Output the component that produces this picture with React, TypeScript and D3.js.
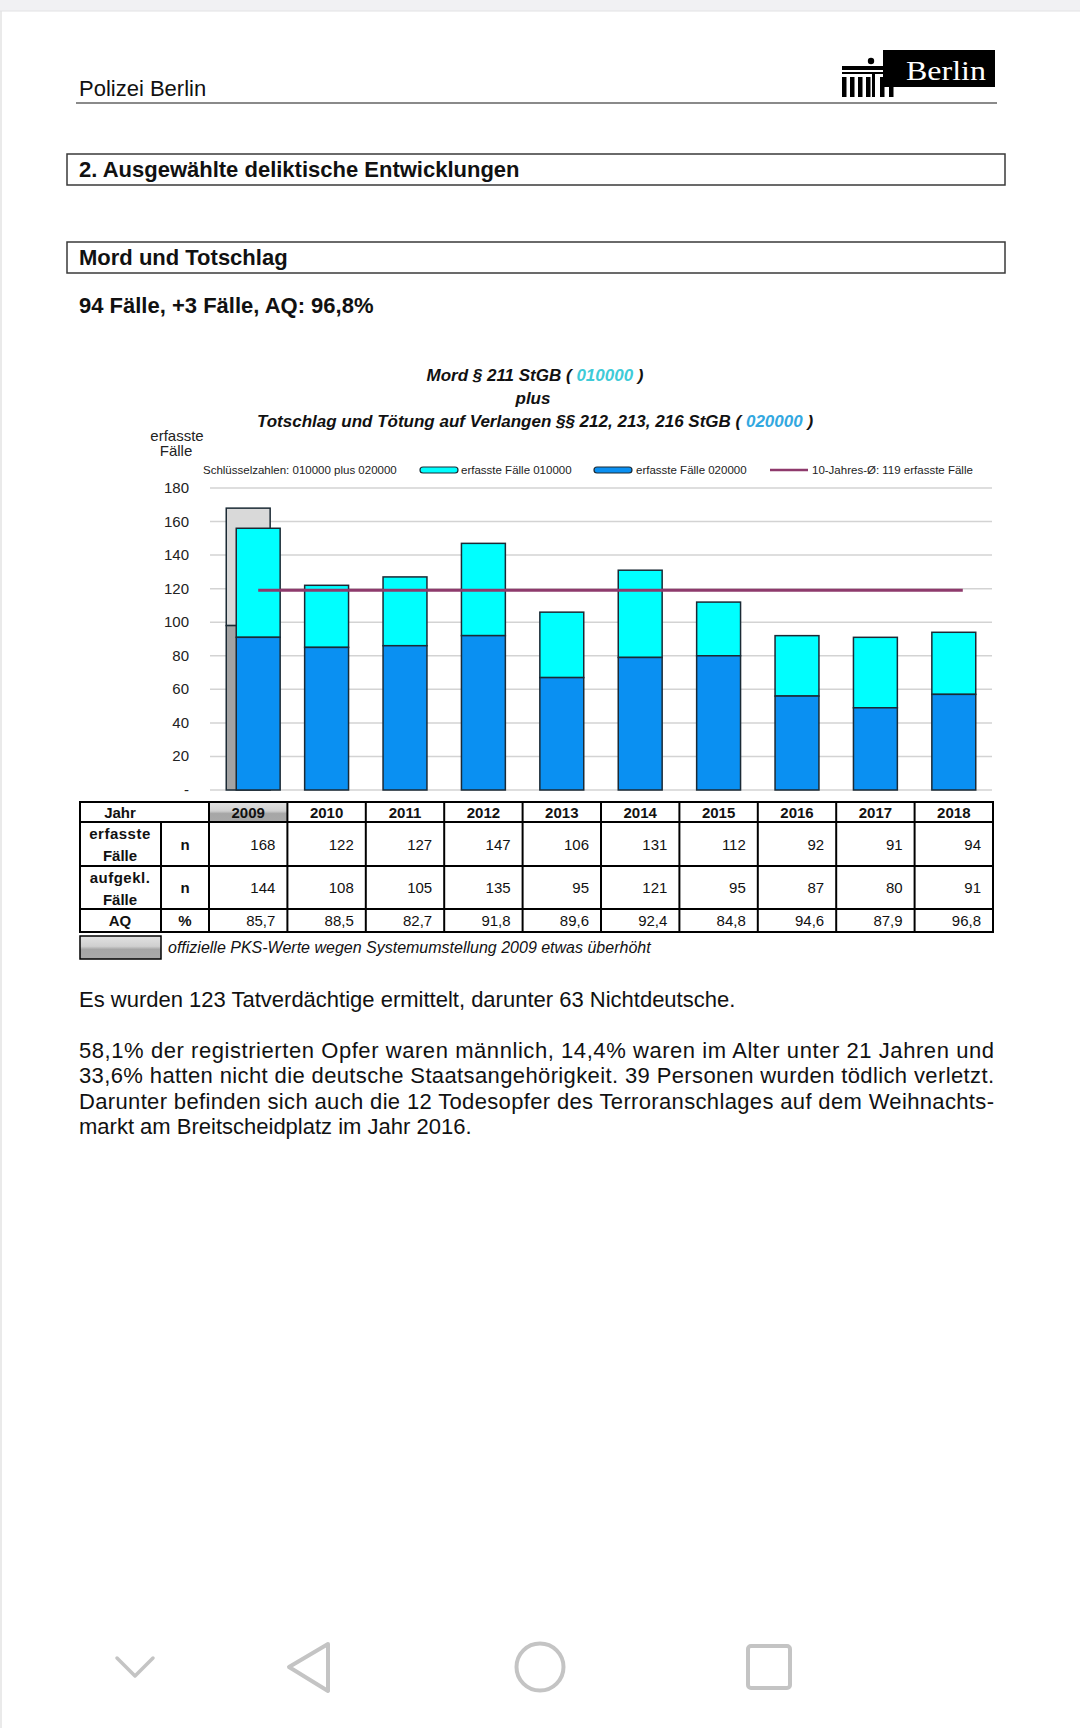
import * as d3 from "d3";

const FONT = "'Liberation Sans', Arial, Helvetica, sans-serif";

// chart data
const years = ["2009", "2010", "2011", "2012", "2013", "2014", "2015", "2016", "2017", "2018"];
const totalCases = [156, 122, 127, 147, 106, 131, 112, 92, 91, 94];
const cases020000 = [91, 85, 86, 92, 67, 79, 80, 56, 49, 57];
const official2009Total = 168;
const official2009Part = 98;
const tenYearAverage = 119;
const yTicks = [0, 20, 40, 60, 80, 100, 120, 140, 160, 180];

// table data
const tableErfasst = [168, 122, 127, 147, 106, 131, 112, 92, 91, 94];
const tableAufgeklaert = [144, 108, 105, 135, 95, 121, 95, 87, 80, 91];
const tableAQ = ["85,7", "88,5", "82,7", "91,8", "89,6", "92,4", "84,8", "94,6", "87,9", "96,8"];

const paragraphLines = [
  "58,1% der registrierten Opfer waren männlich, 14,4% waren im Alter unter 21 Jahren und",
  "33,6% hatten nicht die deutsche Staatsangehörigkeit. 39 Personen wurden tödlich verletzt.",
  "Darunter befinden sich auch die 12 Todesopfer des Terroranschlages auf dem Weihnachts-",
  "markt am Breitscheidplatz im Jahr 2016.",
];

const CYAN = "#00ffff";
const BLUE = "#0a90f2";
const BAR_STROKE = "#1b2a35";
const AVG = "#8e3a6c";
const PAGE_FS = 22;

export default function App() {
  const tableLeft = 80;
  const tableRight = 993;
  const colLabel = 161;
  const colUnit = 209;

  const x = d3.scaleBand<string>().domain(years).range([colUnit, tableRight]).paddingInner(0.44).paddingOuter(0.22);
  const col = d3.scaleBand<string>().domain(years).range([colUnit, tableRight]);
  const y = d3.scaleLinear().domain([0, 180]).range([790, 488]);
  const bw = x.bandwidth();
  const shift = (yr: string) => (yr === "2009" ? 10 : 0);

  const avgLine = d3
    .line<string>()
    .x((d, i) => x(d)! + bw / 2 + (i === 0 ? 10 : 9))
    .y(() => y(tenYearAverage));
  const avgEnds = [years[0], years[years.length - 1]];

  const rows = { top: 802, header: 822, r1: 866, r2: 909, r3: 932 };

  return (
    <svg
      width={1080}
      height={1728}
      viewBox="0 0 1080 1728"
      style={{ position: "absolute", left: 0, top: 0, background: "#fff" }}
      fontFamily={FONT}
    >
      <defs>
        <linearGradient id="gray2009" x1="0" y1="0" x2="0" y2="1">
          <stop offset="0%" stopColor="#e2e2e2" />
          <stop offset="45%" stopColor="#cfcfcf" />
          <stop offset="58%" stopColor="#a6a6a6" />
          <stop offset="100%" stopColor="#a9a9a9" />
        </linearGradient>
      </defs>
      <rect x={0} y={0} width={1080} height={1728} fill="#fff" />
      <rect x={0} y={0} width={1080} height={11} fill="#f1f1f3" />
      <line x1={0} x2={1080} y1={11} y2={11} stroke="#e2e2e4" />
      <line x1={1} x2={1} y1={11} y2={1728} stroke="#e3e3e3" strokeWidth={1.5} />

      {/* page header */}
      <text x={79} y={96} fontSize={PAGE_FS} fill="#111">Polizei Berlin</text>
      <line x1={76} x2={997} y1={103} y2={103} stroke="#8a8a8a" strokeWidth={2} />
      <g>
        <rect x={883} y={50} width={112} height={37} fill="#000" />
        <text x={906} y={80} fontSize={28} fill="#fff" fontFamily="'Liberation Serif', 'DejaVu Serif', serif" textLength={80} lengthAdjust="spacingAndGlyphs">Berlin</text>
        <circle cx={871} cy={61} r={3.2} fill="#000" />
        <rect x={842} y={66} width={56} height={4} fill="#000" />
        <rect x={842} y={72} width={56} height={2} fill="#000" />
        {[842, 850, 858, 866, 880, 889].map((cx) => (
          <rect key={cx} x={cx} y={77} width={4.5} height={20} fill="#000" />
        ))}
        <rect x={872} y={74} width={3} height={23} fill="#000" />
      </g>

      {/* section boxes */}
      <rect x={67} y={154} width={938} height={31} fill="#fff" stroke="#3a3a3a" strokeWidth={1.5} />
      <text x={79} y={177} fontSize={PAGE_FS} fontWeight="bold" fill="#111">2. Ausgewählte deliktische Entwicklungen</text>
      <rect x={67} y={242} width={938} height={31} fill="#fff" stroke="#3a3a3a" strokeWidth={1.5} />
      <text x={79} y={265} fontSize={PAGE_FS} fontWeight="bold" fill="#111">Mord und Totschlag</text>
      <text x={79} y={313} fontSize={PAGE_FS} fontWeight="bold" fill="#111">94 Fälle, +3 Fälle, AQ: 96,8%</text>

      {/* chart title */}
      <g fontWeight="bold" fontStyle="italic" fontSize={17} textAnchor="middle" fill="#111">
        <text x={535} y={381}>
          Mord § 211 StGB ( <tspan fill="#3fcbd8">010000</tspan> )
        </text>
        <text x={533} y={404}>plus</text>
        <text x={535} y={427}>
          Totschlag und Tötung auf Verlangen §§ 212, 213, 216 StGB ( <tspan fill="#33a8e0">020000</tspan> )
        </text>
      </g>
      <g fontSize={15} textAnchor="middle" fill="#222">
        <text x={177} y={441}>erfasste</text>
        <text x={176} y={456}>Fälle</text>
      </g>

      {/* legend */}
      <g fontSize={11.5} fill="#222">
        <text x={203} y={474}>Schlüsselzahlen:  010000  plus  020000</text>
        <rect x={420} y={467} width={38} height={6} rx={3} fill={CYAN} stroke={BAR_STROKE} strokeWidth={1.2} />
        <text x={461} y={474}>erfasste Fälle 010000</text>
        <rect x={594} y={467} width={38} height={6} rx={3} fill={BLUE} stroke={BAR_STROKE} strokeWidth={1.2} />
        <text x={636} y={474}>erfasste Fälle 020000</text>
        <line x1={770} x2={808} y1={470} y2={470} stroke={AVG} strokeWidth={2.5} />
        <text x={812} y={474}>10-Jahres-Ø: 119 erfasste Fälle</text>
      </g>

      {/* grid + y axis */}
      {yTicks.map((t) => (
        <g key={t}>
          <line x1={210} x2={992} y1={y(t)} y2={y(t)} stroke="#d3d3d3" strokeWidth={1.5} />
          <text x={189} y={y(t) + 5} fontSize={15} textAnchor="end" fill="#222">
            {t === 0 ? "-" : t}
          </text>
        </g>
      ))}

      {/* official 2009 values (grey) */}
      <rect x={x("2009")!} y={y(official2009Total)} width={bw} height={y(official2009Part) - y(official2009Total)} fill="#d9d9d9" stroke={BAR_STROKE} strokeWidth={1.5} />
      <rect x={x("2009")!} y={y(official2009Part)} width={bw} height={y(0) - y(official2009Part)} fill="#a3a3a3" stroke={BAR_STROKE} strokeWidth={1.5} />

      {/* stacked bars */}
      {years.map((yr, i) => (
        <g key={yr}>
          <rect x={x(yr)! + shift(yr)} y={y(totalCases[i])} width={bw} height={y(cases020000[i]) - y(totalCases[i])} fill={CYAN} stroke={BAR_STROKE} strokeWidth={1.5} />
          <rect x={x(yr)! + shift(yr)} y={y(cases020000[i])} width={bw} height={y(0) - y(cases020000[i])} fill={BLUE} stroke={BAR_STROKE} strokeWidth={1.5} />
        </g>
      ))}
      <path d={avgLine(avgEnds) ?? ""} stroke={AVG} strokeWidth={3} fill="none" />

      {/* table */}
      <rect x={col("2009")!} y={rows.top} width={col.bandwidth()} height={rows.header - rows.top} fill="url(#gray2009)" />
      <g stroke="#000" strokeWidth={2} fill="none">
        <rect x={tableLeft} y={rows.top} width={tableRight - tableLeft} height={rows.r3 - rows.top} />
        {[rows.header, rows.r1, rows.r2].map((ry) => (
          <line key={ry} x1={tableLeft} x2={tableRight} y1={ry} y2={ry} />
        ))}
        <line x1={colLabel} x2={colLabel} y1={rows.header} y2={rows.r3} />
        {years.map((yr) => (
          <line key={yr} x1={col(yr)!} x2={col(yr)!} y1={rows.top} y2={rows.r3} />
        ))}
      </g>
      <g fontSize={15} fill="#111">
        <g fontWeight="bold" textAnchor="middle">
          <text x={120} y={818}>Jahr</text>
          {years.map((yr) => (
            <text key={yr} x={col(yr)! + col.bandwidth() / 2} y={818}>{yr}</text>
          ))}
          <text x={120} y={839} letterSpacing={0.5}>erfasste</text>
          <text x={120} y={861}>Fälle</text>
          <text x={120} y={883} letterSpacing={0.5}>aufgekl.</text>
          <text x={120} y={905}>Fälle</text>
          <text x={120} y={926}>AQ</text>
          <text x={185} y={850}>n</text>
          <text x={185} y={893}>n</text>
          <text x={185} y={926}>%</text>
        </g>
        <g textAnchor="end">
          {years.map((yr, i) => (
            <g key={yr}>
              <text x={col(yr)! + col.bandwidth() - 12} y={850}>{tableErfasst[i]}</text>
              <text x={col(yr)! + col.bandwidth() - 12} y={893}>{tableAufgeklaert[i]}</text>
              <text x={col(yr)! + col.bandwidth() - 12} y={926}>{tableAQ[i]}</text>
            </g>
          ))}
        </g>
      </g>
      <rect x={80} y={936} width={81} height={23} fill="url(#gray2009)" stroke="#000" strokeWidth={1.5} />
      <text x={168} y={953} fontSize={16} fontStyle="italic" fill="#111">
        offizielle PKS-Werte wegen Systemumstellung 2009 etwas überhöht
      </text>

      {/* body text */}
      <text x={79} y={1007} fontSize={PAGE_FS} fill="#111">
        Es wurden 123 Tatverdächtige ermittelt, darunter 63 Nichtdeutsche.
      </text>
      {paragraphLines.map((line, i) => (
        <text
          key={i}
          x={79}
          y={1058 + i * 25.3}
          fontSize={PAGE_FS}
          fill="#111"
          {...(i < paragraphLines.length - 1 ? { textLength: 915, lengthAdjust: "spacing" } : {})}
        >
          {line}
        </text>
      ))}

      {/* navigation bar */}
      <g stroke="#c4c4c4" strokeWidth={4} fill="none" strokeLinejoin="round" strokeLinecap="round">
        <polyline points="117,1658 135,1676 153,1658" strokeWidth={3.5} />
        <polygon points="328,1644 289,1667 328,1691" />
        <circle cx={540} cy={1667} r={23.5} />
        <rect x={748} y={1646} width={42} height={42} rx={3} />
      </g>
    </svg>
  );
}
